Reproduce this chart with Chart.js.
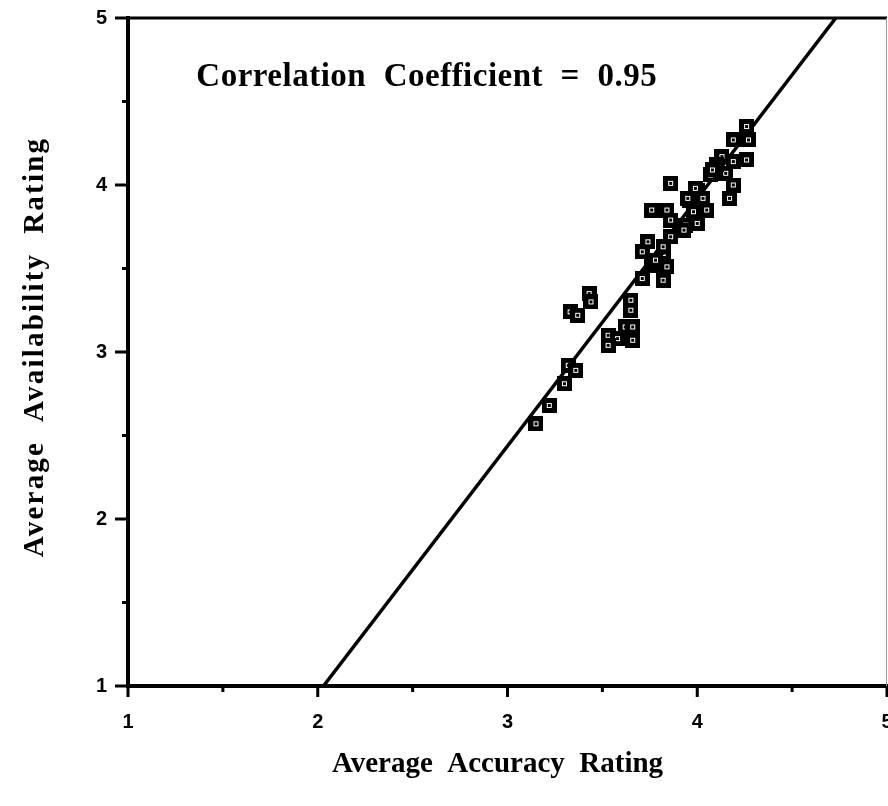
<!DOCTYPE html>
<html>
<head>
<meta charset="utf-8">
<script src="https://cdn.jsdelivr.net/npm/chart.js@4.4.1/dist/chart.umd.min.js"></script>
<style>
  html, body { margin: 0; padding: 0; background: #fff; overflow: hidden; }
  #wrap { width: 888px; height: 806px; }
</style>
</head>
<body>
<div id="wrap"><canvas id="scatterChart" width="888" height="806"></canvas></div>
<script>
// values
const accuracy = [3.15, 3.22, 3.30, 3.32, 3.36, 3.33, 3.37, 3.43, 3.44, 3.53,
                  3.58, 3.53, 3.62, 3.66, 3.66, 3.65, 3.65, 3.71, 3.82, 3.84,
                  3.76, 3.71, 3.82, 3.78, 3.86, 3.76, 3.84, 3.86, 3.94, 4.00,
                  3.98, 4.05, 3.86, 3.96, 4.00, 4.03, 3.95, 3.99, 4.17, 4.19,
                  4.15, 4.13, 4.19, 4.26, 4.19, 4.27, 4.26, 4.07, 4.10, 3.93,
                  3.82, 3.74, 4.08];
const availability = [2.57, 2.68, 2.81, 2.92, 2.89, 3.24, 3.22, 3.35, 3.30, 3.10,
                      3.08, 3.04, 3.15, 3.15, 3.07, 3.31, 3.25, 3.44, 3.43, 3.51,
                      3.52, 3.60, 3.59, 3.55, 3.69, 3.85, 3.85, 3.79, 3.76, 3.77,
                      3.84, 3.85, 4.01, 3.91, 3.97, 3.92, 3.92, 3.98, 3.92, 4.00,
                      4.07, 4.17, 4.14, 4.15, 4.27, 4.27, 4.35, 4.06, 4.12, 3.73,
                      3.63, 3.66, 4.09];
const fitX = [2.03, 4.73];
const fitY = [1, 5];
const tickValues = [1, 2, 3, 4, 5];
const corrText = 'Correlation  Coefficient  =  0.95';
const xTitle = 'Average  Accuracy  Rating';
const yTitle = 'Average  Availability  Rating';

// black square marker with small hollow white square inside
function makeMarker() {
  const c = document.createElement('canvas');
  c.width = 15; c.height = 15;
  const g = c.getContext('2d');
  g.fillStyle = '#000';
  g.fillRect(0, 0, 15, 15);
  g.strokeStyle = '#fff';
  g.lineWidth = 1;
  g.strokeRect(5.5, 5.5, 4, 4);
  return c;
}

const points = accuracy.map((v, i) => ({x: v, y: availability[i]}));
const fitLine = fitX.map((v, i) => ({x: v, y: fitY[i]}));

const tickFont = {family: 'Liberation Sans', weight: 'bold', size: 20};

const frame = {
  id: 'frame',
  afterDatasetsDraw(chart) {
    const {ctx, chartArea, scales} = chart;
    ctx.save();
    // top and right edge
    ctx.strokeStyle = '#000';
    ctx.lineWidth = 3;
    ctx.beginPath();
    ctx.moveTo(chartArea.left, chartArea.top);
    ctx.lineTo(chartArea.right, chartArea.top);
    ctx.stroke();
    ctx.strokeStyle = '#999';
    ctx.lineWidth = 1;
    ctx.beginPath();
    ctx.moveTo(chartArea.right - 0.5, chartArea.top);
    ctx.lineTo(chartArea.right - 0.5, chartArea.bottom);
    ctx.stroke();
    // tick marks, long on whole numbers
    ctx.strokeStyle = '#000';
    ctx.lineWidth = 3;
    scales.x.ticks.forEach(t => {
      const px = scales.x.getPixelForValue(t.value);
      const len = Number.isInteger(t.value) ? 11 : 6;
      ctx.beginPath();
      ctx.moveTo(px, chartArea.bottom);
      ctx.lineTo(px, chartArea.bottom + len);
      ctx.stroke();
    });
    scales.y.ticks.forEach(t => {
      const py = scales.y.getPixelForValue(t.value);
      const len = Number.isInteger(t.value) ? 13 : 6;
      ctx.beginPath();
      ctx.moveTo(chartArea.left, py);
      ctx.lineTo(chartArea.left - len, py);
      ctx.stroke();
    });
    ctx.fillStyle = '#000';
    ctx.textAlign = 'center';
    ctx.textBaseline = 'middle';
    // axis titles, drawn here so they can be spaced like the original
    ctx.font = 'bold 29px "Liberation Serif"';
    ctx.fillText(xTitle, (chartArea.left + chartArea.right) / 2 - 10, 765);
    ctx.save();
    ctx.letterSpacing = '2.2px';
    ctx.translate(36, (chartArea.top + chartArea.bottom) / 2 - 5);
    ctx.rotate(-Math.PI / 2);
    ctx.fillText(yTitle, 0, 0);
    ctx.restore();
    // annotation
    ctx.font = 'bold 33px "Liberation Serif"';
    ctx.letterSpacing = '0.5px';
    ctx.textAlign = 'left';
    ctx.fillText(corrText, scales.x.getPixelForValue(1.36), scales.y.getPixelForValue(4.645));
    ctx.restore();
  }
};

new Chart(document.getElementById('scatterChart'), {
  type: 'scatter',
  data: {
    datasets: [{
      label: 'ratings',
      data: points,
      pointStyle: makeMarker(),
      pointRadius: 7,
      pointHoverRadius: 7,
      order: 0
    }, {
      type: 'line',
      label: 'fit',
      data: fitLine,
      borderColor: '#000',
      borderWidth: 3.5,
      pointRadius: 0,
      fill: false,
      order: 1
    }]
  },
  options: {
    responsive: false,
    animation: false,
    events: [],
    layout: {autoPadding: false, padding: {top: 18, right: 1, left: 0, bottom: 0}},
    plugins: {legend: {display: false}, tooltip: {enabled: false}},
    scales: {
      x: {
        type: 'linear',
        min: 1, max: 5,
        grid: {drawOnChartArea: false, drawTicks: true, tickLength: 11, tickColor: 'rgba(0,0,0,0)'},
        border: {color: '#000', width: 4},
        ticks: {
          stepSize: 0.5, autoSkip: false, maxRotation: 0, padding: 13,
          color: '#000', font: tickFont,
          callback: v => tickValues.includes(v) ? String(v) : ''
        },
        title: {display: false},
        afterFit(scale) {
          scale.height = 120;
          scale.paddingLeft = 0; scale.paddingRight = 0;
        }
      },
      y: {
        type: 'linear',
        min: 1, max: 5,
        grid: {drawOnChartArea: false, drawTicks: true, tickLength: 13, tickColor: 'rgba(0,0,0,0)'},
        border: {color: '#000', width: 4},
        ticks: {
          stepSize: 0.5, autoSkip: false, padding: 8,
          color: '#000', font: tickFont,
          callback: v => tickValues.includes(v) ? String(v) : ''
        },
        title: {display: false},
        afterFit(scale) {
          scale.width = 128;
          scale.paddingTop = 0; scale.paddingBottom = 0;
        }
      }
    }
  },
  plugins: [frame]
});
</script>
</body>
</html>
